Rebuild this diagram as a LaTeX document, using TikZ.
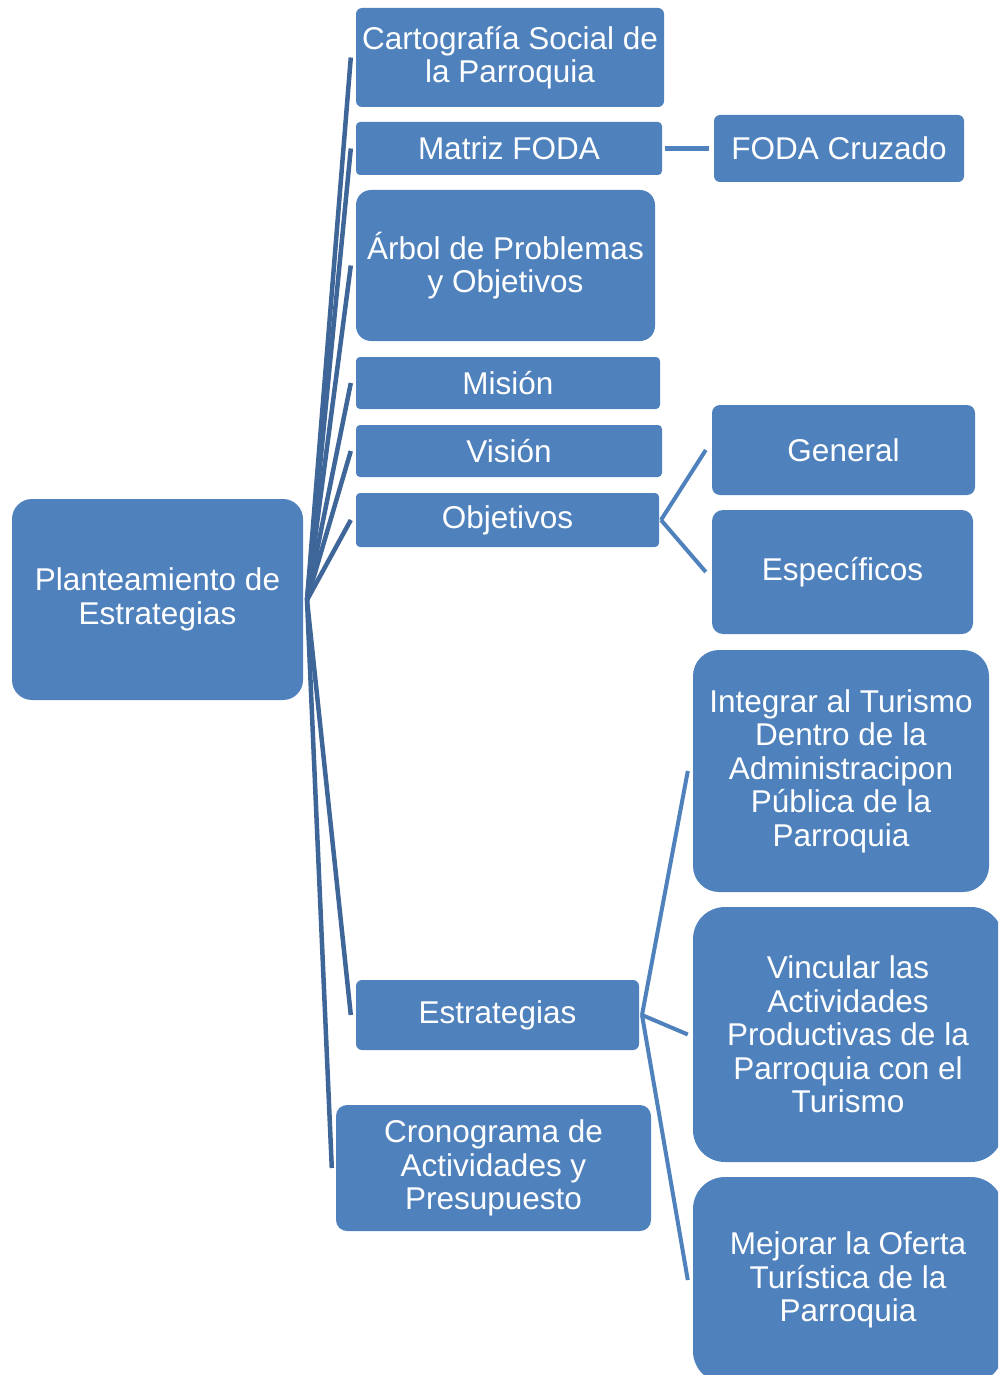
\documentclass[tikz,border=0pt]{standalone}
\usepackage{fontspec}
\setmainfont{Liberation Sans}
\definecolor{boxblue}{HTML}{4F81BD}
\definecolor{lineblue}{HTML}{3E6699}
\begin{document}
\begin{tikzpicture}[x=1pt,y=-1pt,
  box/.style={fill=boxblue, draw=none, inner sep=0pt, text=white, align=center,
    font=\fontsize{31.5}{33.5}\selectfont},
  rootconn/.style={draw=lineblue, line width=4.5pt},
  conn/.style={draw=boxblue, line width=4pt}]
\useasboundingbox (0,0) rectangle (998,1375);
\clip (0,0) rectangle (998,1375);
% nodes
\node[box, minimum width=291pt, minimum height=201pt, rounded corners=20pt] (root) at (157.5,599.5) {Planteamiento de\\Estrategias};
\node[box, minimum width=308pt, minimum height=99pt, rounded corners=6pt] (cart) at (510,57.5) {Cartografía Social de\\la Parroquia};
\node[box, minimum width=306pt, minimum height=53pt, rounded corners=4pt] (foda) at (509,148.5) {Matriz FODA};
\node[box, minimum width=250pt, minimum height=67pt, rounded corners=6pt] (cruz) at (839,148.5) {FODA Cruzado};
\node[box, minimum width=299pt, minimum height=151pt, rounded corners=15pt] (arbol) at (505.5,265.5) {Árbol de Problemas\\y Objetivos};
\node[box, minimum width=304pt, minimum height=52pt, rounded corners=4pt] (mision) at (508,383) {Misión};
\node[box, minimum width=306pt, minimum height=52pt, rounded corners=4pt] (vision) at (509,451) {Visión};
\node[box, minimum width=303pt, minimum height=54pt, rounded corners=4pt] (obj) at (507.5,520) {Objetivos};
\node[box, minimum width=263pt, minimum height=90pt, rounded corners=8pt] (gen) at (843.5,450) {General};
\node[box, minimum width=261pt, minimum height=124pt, rounded corners=11pt] (esp) at (842.5,572) {Específicos};
\node[box, minimum width=283pt, minimum height=70pt, rounded corners=6pt] (estr) at (497.5,1015) {Estrategias};
\node[box, minimum width=315pt, minimum height=126pt, rounded corners=11pt] (crono) at (493.5,1168) {Cronograma de\\Actividades y\\Presupuesto};
\node[box, minimum width=296pt, minimum height=242pt, rounded corners=26pt] (integ) at (841,771) {Integrar al Turismo\\Dentro de la\\Administracipon\\Pública de la\\Parroquia};
\node[box, minimum width=310pt, minimum height=255pt, rounded corners=32pt] (vinc) at (848,1034.5) {Vincular las\\Actividades\\Productivas de la\\Parroquia con el\\Turismo};
\node[box, minimum width=310pt, minimum height=206pt, rounded corners=32pt] (mej) at (848,1280) {Mejorar la Oferta\\Turística de la\\Parroquia};
% hub points
\coordinate (hub) at (307,600);
\coordinate (ohub) at (661,520);
\coordinate (ehub) at (642,1015);
% root connectors
\foreach \n in {cart,foda,arbol,mision,vision,obj,estr}{
  \draw[rootconn] (hub) -- ([xshift=-5pt]\n.west);
}
\draw[rootconn] (hub) -- ([xshift=-4pt]crono.west);
% other connectors
\draw[conn, line width=5pt] ([xshift=3pt]foda.east) -- ([xshift=-5pt]cruz.west);
\draw[conn] (ohub) -- ([xshift=-6pt]gen.west);
\draw[conn] (ohub) -- ([xshift=-6pt]esp.west);
\draw[conn] (ehub) -- ([xshift=-5pt]integ.west);
\draw[conn] (ehub) -- ([xshift=-5pt]vinc.west);
\draw[conn] (ehub) -- ([xshift=-5pt]mej.west);
\end{tikzpicture}
\end{document}
